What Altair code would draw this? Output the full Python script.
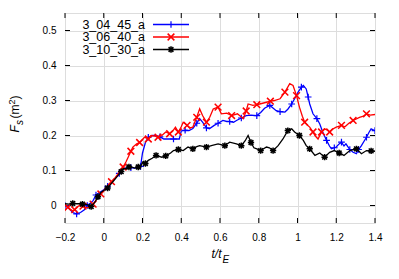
import altair as alt
import pandas as pd

# ---------------- data ----------------
series_names = ["3_04_45_a", "3_06_40_a", "3_10_30_a"]
series_colors = ["#0000ff", "#ff0000", "#000000"]

blue_t = [-0.2, -0.18, -0.16, -0.14, -0.12, -0.1, -0.085, -0.07, -0.055, -0.04, -0.02, 0.0, 0.02, 0.04,
          0.06, 0.08, 0.1, 0.12, 0.14, 0.16, 0.18, 0.19, 0.2, 0.215, 0.23, 0.25, 0.27, 0.29, 0.31, 0.33,
          0.36, 0.39, 0.4, 0.42, 0.44, 0.46, 0.48, 0.495, 0.51, 0.53, 0.545, 0.57, 0.59, 0.615, 0.635,
          0.65, 0.67, 0.685, 0.71, 0.735, 0.76, 0.79, 0.81, 0.83, 0.857, 0.875, 0.89, 0.91, 0.935, 0.95,
          0.97, 0.99, 1.003, 1.02, 1.03, 1.045, 1.055, 1.063, 1.08, 1.1, 1.115, 1.13, 1.15, 1.165, 1.175,
          1.19, 1.2, 1.215, 1.227, 1.24, 1.25, 1.27, 1.287, 1.304, 1.315, 1.33, 1.345, 1.356, 1.37, 1.38, 1.4]
blue_y = [0.0, -0.008, -0.02, -0.024, -0.02, -0.012, 0.0, 0.006, 0.014, 0.03, 0.038, 0.045, 0.055, 0.066,
          0.078, 0.092, 0.105, 0.108, 0.108, 0.107, 0.11, 0.112, 0.15, 0.18, 0.195, 0.2, 0.2, 0.196, 0.19, 0.19,
          0.19, 0.19, 0.213, 0.215, 0.214, 0.22, 0.235, 0.248, 0.238, 0.222, 0.219, 0.229, 0.235, 0.243, 0.24,
          0.24, 0.238, 0.243, 0.25, 0.257, 0.258, 0.257, 0.266, 0.278, 0.286, 0.278, 0.271, 0.268, 0.267, 0.275,
          0.29, 0.31, 0.324, 0.338, 0.343, 0.333, 0.31, 0.29, 0.262, 0.248, 0.233, 0.21, 0.186, 0.17, 0.162,
          0.165, 0.167, 0.176, 0.181, 0.17, 0.176, 0.16, 0.152, 0.148, 0.16, 0.171, 0.185, 0.195, 0.21, 0.219, 0.214]

red_t = [-0.2, -0.185, -0.175, -0.16, -0.15, -0.14, -0.125, -0.107, -0.09, -0.073, -0.055, -0.04, -0.03,
         -0.015, 0.0, 0.02, 0.04, 0.06, 0.08, 0.1, 0.115, 0.126, 0.14, 0.15, 0.17, 0.185, 0.196, 0.21, 0.23,
         0.245, 0.265, 0.28, 0.3, 0.32, 0.34, 0.355, 0.37, 0.385, 0.4, 0.41, 0.43, 0.445, 0.46, 0.48, 0.495,
         0.51, 0.53, 0.547, 0.565, 0.59, 0.607, 0.635, 0.66, 0.69, 0.72, 0.735, 0.745, 0.77, 0.79, 0.805,
         0.84, 0.86, 0.88, 0.91, 0.935, 0.96, 0.977, 0.995, 1.01, 1.025, 1.037, 1.05, 1.063, 1.08, 1.09,
         1.106, 1.124, 1.14, 1.155, 1.166, 1.18, 1.2, 1.227, 1.245, 1.265, 1.287, 1.32, 1.34, 1.356, 1.375, 1.4]
red_y = [0.0, -0.005, -0.01, -0.015, -0.012, -0.005, 0.0, -0.002, -0.006, -0.005, 0.004, 0.015, 0.024,
         0.033, 0.043, 0.055, 0.068, 0.08, 0.095, 0.11, 0.125, 0.138, 0.155, 0.167, 0.176, 0.18, 0.186, 0.195, 0.19,
         0.2, 0.198, 0.195, 0.2, 0.21, 0.205, 0.212, 0.224, 0.21, 0.225, 0.238, 0.229, 0.222, 0.224, 0.252, 0.276,
         0.257, 0.238, 0.252, 0.276, 0.281, 0.262, 0.264, 0.257, 0.262, 0.248, 0.27, 0.29, 0.286, 0.288, 0.29,
         0.295, 0.298, 0.3, 0.305, 0.324, 0.348, 0.343, 0.314, 0.281, 0.255, 0.238, 0.23, 0.224, 0.21, 0.2,
         0.19, 0.21, 0.219, 0.215, 0.21, 0.218, 0.224, 0.229, 0.225, 0.235, 0.243, 0.252, 0.255, 0.262, 0.258, 0.26]

black_t = [-0.2, -0.18, -0.16, -0.14, -0.125, -0.11, -0.09, -0.075, -0.065, -0.055, -0.045, -0.03, -0.015,
           0.0, 0.02, 0.05, 0.07, 0.09, 0.1, 0.117, 0.13, 0.143, 0.16, 0.178, 0.19, 0.2, 0.215, 0.23, 0.25,
           0.27, 0.285, 0.3, 0.32, 0.345, 0.36, 0.385, 0.41, 0.435, 0.46, 0.48, 0.495, 0.53, 0.56, 0.59, 0.625,
           0.65, 0.685, 0.71, 0.73, 0.745, 0.76, 0.775, 0.79, 0.81, 0.84, 0.855, 0.874, 0.9, 0.925, 0.95, 0.97,
           0.985, 1.01, 1.03, 1.045, 1.063, 1.09, 1.115, 1.14, 1.166, 1.19, 1.215, 1.24, 1.27, 1.304, 1.33,
           1.356, 1.38, 1.4]
black_y = [0.005, 0.004, 0.006, 0.005, 0.005, 0.004, 0.003, 0.0, -0.003, 0.003, 0.01, 0.025, 0.037,
           0.043, 0.05, 0.07, 0.083, 0.097, 0.105, 0.105, 0.11, 0.11, 0.107, 0.11, 0.11, 0.124, 0.12, 0.129, 0.135,
           0.143, 0.14, 0.138, 0.142, 0.15, 0.157, 0.16, 0.157, 0.167, 0.162, 0.168, 0.171, 0.167, 0.172, 0.176, 0.171,
           0.181, 0.176, 0.171, 0.185, 0.2, 0.18, 0.165, 0.162, 0.157, 0.167, 0.165, 0.157, 0.171, 0.19, 0.214, 0.219,
           0.21, 0.2, 0.186, 0.171, 0.162, 0.143, 0.15, 0.138, 0.152, 0.157, 0.15, 0.143, 0.157, 0.162, 0.148,
           0.157, 0.156, 0.155]

x_ticks = [-0.2, 0, 0.2, 0.4, 0.6, 0.8, 1, 1.2, 1.4]
y_ticks = [0, 0.1, 0.2, 0.3, 0.4, 0.5]

# ---------------- styling ----------------
W, H = 310, 210
FONT = "Liberation Sans"
PLUS = "M-1,0L1,0M0,-1L0,1"
CROSS = "M-1,-1L1,1M-1,1L1,-1"
STAR = "M-1,0L1,0M0,-1L0,1M-0.75,-0.75L0.75,0.75M-0.75,0.75L0.75,-0.75"
shapes = [PLUS, CROSS, STAR]
marker_width = [1.2, 1.5, 1.5]
marker_size = [45, 45, 40]

xs = alt.Scale(domain=[-0.2, 1.4], nice=False, zero=False)
ys = alt.Scale(domain=[-0.05, 0.55], nice=False, zero=False)
x_axis = alt.Axis(values=x_ticks, format="~g", title=None, grid=True, ticks=False, domain=False,
                  labelPadding=9, labelFlush=False, labelOverlap=False)
y_axis = alt.Axis(values=y_ticks, format="~g", title=None, grid=True, ticks=False, domain=False,
                  labelPadding=9, labelOverlap=False)


def X(field="t"):
    return alt.X(f"{field}:Q", scale=xs, axis=x_axis)


def Y(field="y"):
    return alt.Y(f"{field}:Q", scale=ys, axis=y_axis)


all_t = [blue_t, red_t, black_t]
all_y = [blue_y, red_y, black_y]

one = pd.DataFrame({"a": [0]})

layers = []

# inward ticks on all four sides
xt = pd.DataFrame({"t": x_ticks})
yt = pd.DataFrame({"y": y_ticks})
tick_color = "#000000"
layers.append(alt.Chart(xt).mark_rule(color=tick_color, strokeWidth=1).encode(
    x=X(), y=alt.value(H), y2=alt.value(H - 5)))
layers.append(alt.Chart(xt).mark_rule(color=tick_color, strokeWidth=1).encode(
    x=X(), y=alt.value(0), y2=alt.value(5)))
layers.append(alt.Chart(yt).mark_rule(color=tick_color, strokeWidth=1).encode(
    y=Y(), x=alt.value(0), x2=alt.value(5)))
layers.append(alt.Chart(yt).mark_rule(color=tick_color, strokeWidth=1).encode(
    y=Y(), x=alt.value(W), x2=alt.value(W - 5)))

# data series
for i, name in enumerate(series_names):
    df = pd.DataFrame({"t": all_t[i], "y": all_y[i]})
    df["idx"] = range(len(df))
    col = series_colors[i]
    layers.append(alt.Chart(df).mark_line(color=col, strokeWidth=1.3, clip=True).encode(
        x=X(), y=Y(), order="idx:Q"))
    mk = df[df["idx"] % 3 == (i % 3)]
    layers.append(alt.Chart(mk).mark_point(shape=shapes[i], filled=False, color=col, size=marker_size[i],
                                           strokeWidth=marker_width[i], opacity=1, clip=True).encode(
        x=X(), y=Y()))

# legend (gnuplot style, inside top-left)
row_y = [11.5, 24.0, 36.5]
for i, name in enumerate(series_names):
    col = series_colors[i]
    layers.append(alt.Chart(one).mark_text(text=name, font=FONT, fontSize=12.5, align="right",
                                           baseline="middle", color="#000000").encode(
        x=alt.value(80), y=alt.value(row_y[i])))
    layers.append(alt.Chart(one).mark_rule(color=col, strokeWidth=1.3).encode(
        x=alt.value(88), x2=alt.value(124), y=alt.value(row_y[i])))
    layers.append(alt.Chart(one).mark_point(shape=shapes[i], filled=False, color=col, size=marker_size[i],
                                            strokeWidth=marker_width[i], opacity=1).encode(
        x=alt.value(106), y=alt.value(row_y[i])))

# x title: t/t_E
layers.append(alt.Chart(one).mark_text(text="t/t", font=FONT, fontSize=12, fontStyle="italic",
                                       align="left", baseline="alphabetic").encode(
    x=alt.value(146.5), y=alt.value(244.5)))
layers.append(alt.Chart(one).mark_text(text="E", font=FONT, fontSize=10, fontStyle="italic",
                                       align="left", baseline="alphabetic").encode(
    x=alt.value(157.5), y=alt.value(249.5)))

# y title: F_s (m^2), rotated
ytitle = [
    ("F", 12, "italic", -46, 119.5),
    ("s", 10, "italic", -42.5, 112.0),
    ("(m", 12, "normal", -46, 105.5),
    ("2", 9, "normal", -50, 91.5),
    (")", 12, "normal", -46, 86.5),
]
for txt, fs, st, px, py in ytitle:
    layers.append(alt.Chart(one).mark_text(text=txt, font=FONT, fontSize=fs, fontStyle=st, angle=270,
                                           align="left", baseline="alphabetic").encode(
        x=alt.value(px), y=alt.value(py)))

chart = alt.layer(*layers).properties(
    width=W, height=H,
    autosize=alt.AutoSizeParams(type="none"),
    padding={"left": 57, "top": 5, "right": 16, "bottom": 48},
).configure_view(
    stroke="#000000", strokeWidth=1.5
).configure_axis(
    labelFont=FONT, labelFontSize=12, labelColor="#000000",
    gridColor="#b0b0b0", gridDash=[1, 2], gridWidth=1,
).configure(background="white")

chart.save("out.html", embed_options={"renderer": "svg", "actions": False})
